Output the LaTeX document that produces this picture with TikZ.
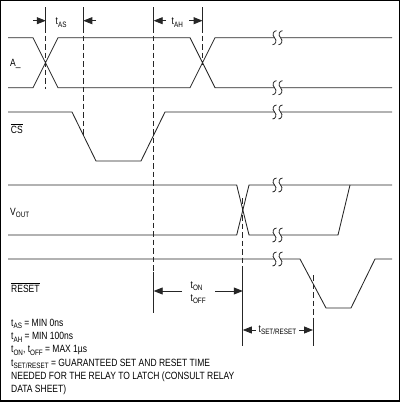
\documentclass[tikz,border=0pt]{standalone}
\usepackage{fontspec}
\setmainfont{Liberation Sans}[FakeStretch=0.81]
\usetikzlibrary{arrows.meta}
\newcommand\sbs[1]{\raisebox{-2.4pt}{\fontsize{7.8}{8}\selectfont #1}}
\newcommand\ovl[1]{$\overline{\mbox{#1}}$}
\tikzset{
  sig/.style={line width=0.85pt, black!85, line join=miter},
  dsh/.style={line width=0.85pt, black!85, dash pattern=on 5.5pt off 3pt},
  tck/.style={line width=0.85pt, black!85},
  arr/.style={line width=0.85pt, black!85, -{Triangle[length=9pt,width=7pt]}},
  lbl/.style={inner sep=0pt, anchor=base west, font=\fontsize{10.5}{12}\selectfont},
  brk/.pic={
    \fill[white] (-3,-1.6) rectangle (3,1.6);
    \draw[line width=0.8pt, black!85] (-1,-7) .. controls (-4,-7) and (-6,-3) .. (-3,0) .. controls (0,3) and (-2,7) .. (-5,7);
    \draw[line width=0.8pt, black!85] (5,-7) .. controls (2,-7) and (0,-3) .. (3,0) .. controls (6,3) and (4,7) .. (1,7);
  }
}
\begin{document}
\begin{tikzpicture}[x=1pt,y=-1pt]
\useasboundingbox (0,0) rectangle (400,402);
\draw[line width=1.4pt] (0.7,0.7) rectangle (399.3,400.9);

% A_
\draw[sig] (8,37.7) -- (33,37.7) -- (58,87.7) -- (190,87.7) -- (215,37.7) -- (392,37.7);
\draw[sig] (8,87.7) -- (33,87.7) -- (58,37.7) -- (190,37.7) -- (215,87.7) -- (392,87.7);
% CS
\draw[sig] (8,112) -- (72,112) -- (96,161) -- (141,161) -- (165,112) -- (392,112);
% VOUT
\draw[sig] (8,185) -- (236.7,185) -- (249,235) -- (338,235) -- (350,185);
\draw[sig] (8,235) -- (236.7,235) -- (249,185) -- (392,185);
% RESET
\draw[sig] (8,259) -- (300,259) -- (326,308) -- (351,308) -- (375,259) -- (392,259);

\foreach \yy in {37.7,87.7,112,185,235,259} \pic at (277.5,\yy) {brk};

% marker lines
\coordinate (m1t) at (45.8,7);   \coordinate (m1a) at (45.8,27);  \coordinate (m1b) at (45.8,89);
\coordinate (m2t) at (83.3,7);   \coordinate (m2a) at (83.3,27);  \coordinate (m2b) at (83.3,137);
\coordinate (m3t) at (153.7,7);  \coordinate (m3a) at (153.7,27); \coordinate (m3b) at (153.7,272); \coordinate (m3c) at (153.7,313);
\coordinate (m4t) at (202.6,7);  \coordinate (m4a) at (202.6,27); \coordinate (m4b) at (202.6,65);
\coordinate (m5t) at (242.8,198); \coordinate (m5a) at (242.8,272); \coordinate (m5b) at (242.8,346);
\coordinate (m6t) at (313,275);  \coordinate (m6a) at (313,320);  \coordinate (m6b) at (313,346);
\draw[tck] (m1t) -- (m1a); \draw[dsh] (m1a) -- (m1b);
\draw[tck] (m2t) -- (m2a); \draw[dsh] (m2a) -- (m2b);
\draw[tck] (m3t) -- (m3a); \draw[dsh] (m3a) -- (m3b); \draw[tck] (m3b) -- (m3c);
\draw[tck] (m4t) -- (m4a); \draw[dsh] (m4a) -- (m4b);
\draw[dsh] (m5t) -- (m5a); \draw[tck] (m5a) -- (m5b);
\draw[dsh] (m6t) -- (m6a); \draw[tck] (m6a) -- (m6b);

% arrows
\draw[arr] (33,20.7) -- (45.8,20.7);
\draw[arr] (96,20.7) -- (83.3,20.7);
\draw[arr] (166,20.7) -- (153.7,20.7);
\draw[arr] (189,20.7) -- (202.6,20.7);
\draw[arr] (182,291) -- (153.7,291);
\draw[arr] (215,291) -- (242.8,291);
\draw[arr] (256,330) -- (242.8,330);
\draw[arr] (299,330) -- (313,330);

% timing labels
\node[lbl] (tas) at (55.5,24.8) {t\sbs{AS}};
\node[lbl] (tah) at (171.5,24.8) {t\sbs{AH}};
\node[lbl] (ton) at (190.5,288) {t\sbs{ON}};
\node[lbl] (toff) at (190.5,301.5) {t\sbs{OFF}};
\node[lbl] (tset) at (258.5,332.5) {t\sbs{SET/RESET}};

% signal names
\node[lbl] (la) at (10,66.7) {A\_};
\node[lbl] (lcs) at (10.7,133) {\ovl{CS}};
\node[lbl] (lv) at (10,215) {V\sbs{OUT}};
\node[lbl] (lr) at (11,292) {\ovl{RESET}};

% notes
\node[lbl] (n1) at (11,326.3) {t\sbs{AS} = MIN 0ns};
\node[lbl] (n2) at (11,339.6) {t\sbs{AH} = MIN 100ns};
\node[lbl] (n3) at (11,352.9) {t\sbs{ON}, t\sbs{OFF} = MAX 1µs};
\node[lbl] (n4) at (11,366.2) {t\sbs{SET/RESET} = GUARANTEED SET AND RESET TIME};
\node[lbl] (n5) at (11,379.5) {NEEDED FOR THE RELAY TO LATCH (CONSULT RELAY};
\node[lbl] (n6) at (11,392.8) {DATA SHEET)};
\end{tikzpicture}
\end{document}
